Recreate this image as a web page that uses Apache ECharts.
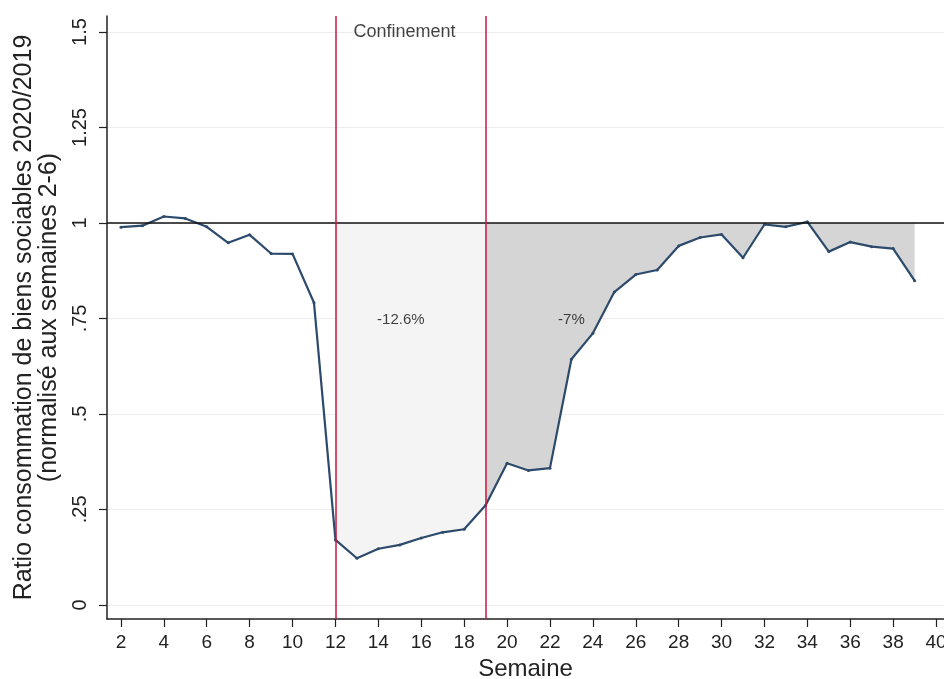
<!DOCTYPE html>
<html>
<head>
<meta charset="utf-8">
<script src="https://cdn.jsdelivr.net/npm/echarts@6/dist/echarts.min.js"></script>
<style>
html,body{margin:0;padding:0;background:#fff}
#chart{width:944px;height:679px}
</style>
</head>
<body>
<div id="chart"></div>
<script>
// semaines 2..39
const weeks = [2,3,4,5,6,7,8,9,10,11,12,13,14,15,16,17,18,19,20,21,22,23,24,25,26,27,28,29,30,31,32,33,34,35,36,37,38,39]
const ratio = [0.989,0.993,1.017,1.012,0.990,0.948,0.969,0.920,0.919,0.791,
  0.170,0.122,0.147,0.157,0.175,0.190,0.198,0.261,
  0.371,0.352,0.358,0.643,0.711,0.819,0.865,0.877,0.940,0.962,0.970,0.909,
  0.996,0.990,1.003,0.925,0.950,0.938,0.933,0.849]
const confStart = 12
const confEnd = 19
const lastWeek = 39
const yTicks = [0,0.25,0.5,0.75,1,1.25,1.5]
const yTickLabels = ['0','.25','.5','.75','1','1.25','1.5']
const xTicks = [2,4,6,8,10,12,14,16,18,20,22,24,26,28,30,32,34,36,38,40]
// annotations: [x, y, text, size]
const notes = [[15.22,1.5,'Confinement',18],[15.05,0.746,'-12.6%',15],[23.0,0.746,'-7%',15]]

let pts = weeks.map((w,i)=>[w,ratio[i]])
let confPts = pts.filter(p=>p[0]>=confStart && p[0]<=confEnd)
let afterPts = pts.filter(p=>p[0]>=confEnd && p[0]<=lastWeek)

let chart = echarts.init(document.getElementById('chart'))
const font = 'Liberation Sans, Arial, sans-serif'
chart.setOption({
    animation:false,
    grid:{left:107,right:0,top:16,bottom:60,containLabel:false,outerBoundsMode:'none'},
    xAxis:{
        type:'value', min:1.35, max:40.37,
        name:'Semaine', nameLocation:'middle', nameGap:36,
        nameTextStyle:{fontFamily:font,fontSize:24,color:'#222'},
        axisLine:{onZero:false,lineStyle:{color:'#222',width:1.5}},
        axisTick:{show:true,length:8,lineStyle:{color:'#222',width:1.2},customValues:xTicks},
        axisLabel:{fontFamily:font,fontSize:19,color:'#222',margin:14,customValues:xTicks,formatter:v=>String(v)},
        splitLine:{show:false}
    },
    yAxis:{
        type:'value', min:-0.037, max:1.542,
        name:'Ratio consommation de biens sociables 2020/2019\n(normalisé aux semaines 2-6)',
        nameLocation:'middle', nameRotate:90, nameGap:39,
        nameTextStyle:{fontFamily:font,fontSize:25,color:'#222',lineHeight:25},
        axisLine:{show:true,onZero:false,lineStyle:{color:'#222',width:1.5}},
        axisTick:{show:true,length:8,lineStyle:{color:'#222',width:1.2},customValues:yTicks},
        axisLabel:{fontFamily:font,fontSize:20,color:'#222',rotate:90,margin:17,customValues:yTicks,
            formatter:v=>{let k=yTicks.findIndex(t=>Math.abs(t-v)<1e-6);return k>=0?yTickLabels[k]:''}},
        splitLine:{show:true,lineStyle:{color:'#eeeeee',width:1}}
    },
    series:[
        {type:'line',data:[],z:1,silent:true,
         markLine:{symbol:'none',silent:true,label:{show:false},
            lineStyle:{color:'#111',type:'solid',width:1.5},data:[{yAxis:1}]}},
        {type:'line',data:confPts,z:2,symbol:'none',silent:true,
         lineStyle:{width:0},areaStyle:{color:'#f4f4f4',opacity:1,origin:1}},
        {type:'line',data:afterPts,z:2,symbol:'none',silent:true,
         lineStyle:{width:0},areaStyle:{color:'#d5d5d5',opacity:1,origin:1}},
        {type:'line',data:pts,z:4,symbol:'circle',symbolSize:3,
         itemStyle:{color:'#2c4a6b'},lineStyle:{color:'#2c4a6b',width:2.2},
         markLine:{symbol:'none',silent:true,label:{show:false},
            lineStyle:{color:'#c8173f',type:'solid',width:1.5},
            data:[{xAxis:confStart},{xAxis:confEnd}]}},
        {type:'scatter',z:5,symbolSize:0,silent:true,
         data:notes.map(n=>({value:[n[0],n[1]],name:n[2],label:{fontSize:n[3]}})),
         label:{show:true,position:'inside',formatter:p=>p.name,fontFamily:font,color:'#111'}}
    ]
})
</script>
</body>
</html>
